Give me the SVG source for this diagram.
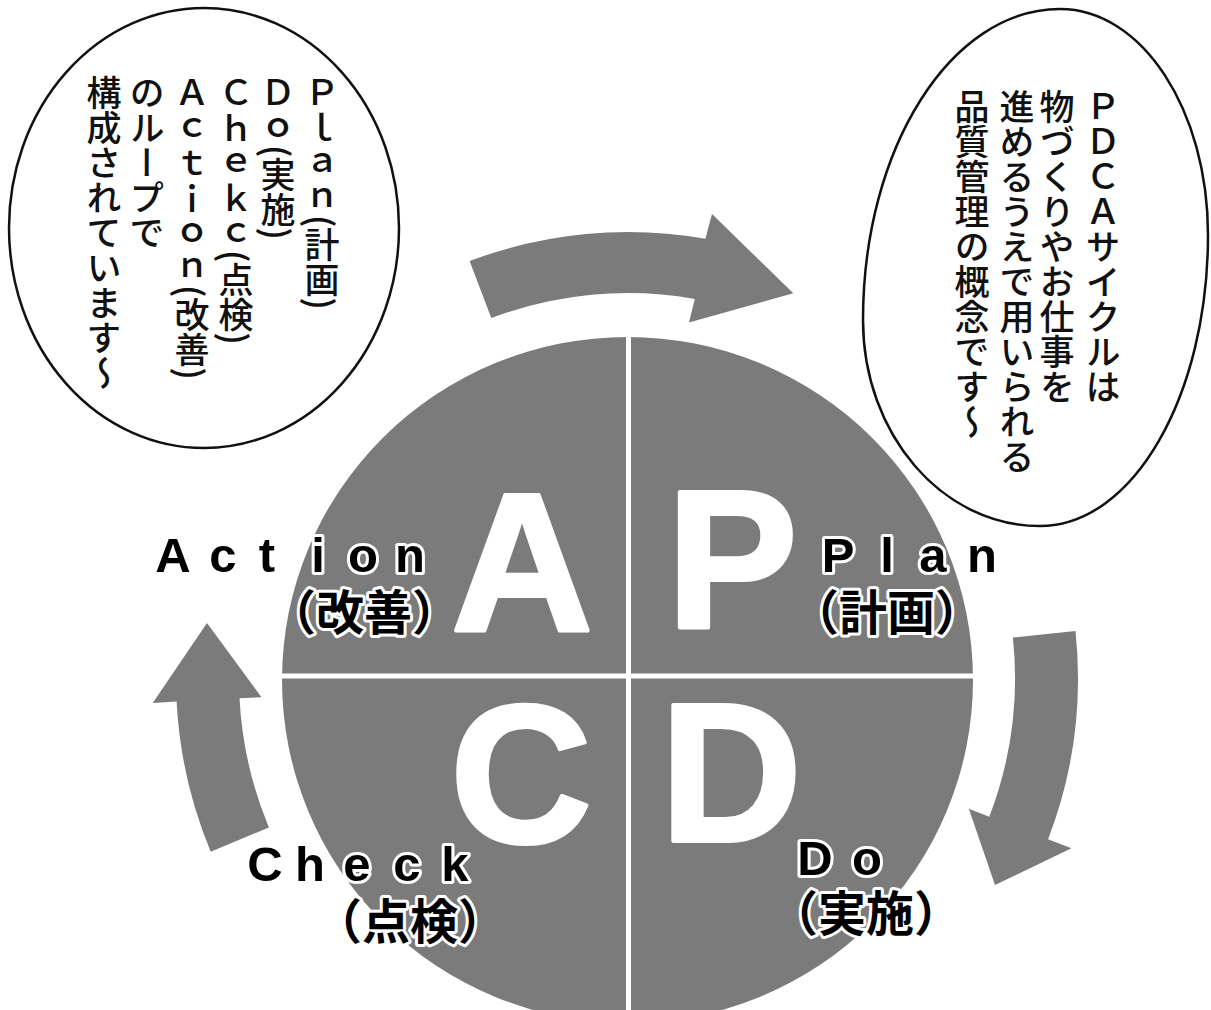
<svg xmlns="http://www.w3.org/2000/svg" width="1211" height="1010" viewBox="0 0 1211 1010">
<style>
  .bubble{fill:#fff;stroke:#111;stroke-width:2.5}
  .vt{font-family:"Noto Sans CJK JP","Noto Sans CJK SC",sans-serif;font-size:35px;font-weight:500;fill:#111;writing-mode:vertical-rl}
  .disc{fill:#7b7b7b}
  .sep{stroke:#fff;stroke-width:5}
  .big{font-family:"Liberation Sans",Arial,sans-serif;font-weight:bold;font-size:196px;fill:#fff;stroke:#fff;stroke-width:4;stroke-linejoin:round;text-anchor:middle}
  .lat{font-family:"Liberation Sans",Arial,sans-serif;font-weight:bold;font-size:49px;fill:#000;stroke:#fff;stroke-width:6;paint-order:stroke;stroke-linejoin:round;text-anchor:middle}
  .jp{font-family:"Noto Sans CJK JP","Noto Sans CJK SC",sans-serif;font-weight:bold;font-size:48px;fill:#000;stroke:#fff;stroke-width:6;paint-order:stroke;stroke-linejoin:round;text-anchor:middle}
  .arrow{fill:#7b7b7b}
</style>
<rect width="1211" height="1010" fill="#fff"/>

<g id="bubble-left">
  <ellipse class="bubble" cx="204" cy="228" rx="195" ry="220"/>
  <text class="vt" x="322" y="75">Ｐｌａｎ(計画)</text>
  <text class="vt" x="278" y="75">Ｄｏ(実施)</text>
  <text class="vt" x="236" y="75">Ｃｈｅｋｃ(点検)</text>
  <text class="vt" x="192" y="75">Ａｃｔｉｏｎ(改善)</text>
  <text class="vt" x="147" y="75">のループで</text>
  <text class="vt" x="104" y="75">構成されています〜</text>
</g>

<g id="bubble-right">
  <path class="bubble" d="M1060 9 C1142 9 1208 110 1208 235 C1208 396 1133 526 1040 526 C942 526 863 434 863 320 C863 148 951 9 1060 9 Z"/>
  <text class="vt" x="1103" y="89">ＰＤＣＡサイクルは</text>
  <text class="vt" x="1057" y="89">物づくりやお仕事を</text>
  <text class="vt" x="1017" y="89">進めるうえで用いられる</text>
  <text class="vt" x="972" y="89">品質管理の概念です〜</text>
</g>

<g id="cycle">
  <ellipse class="disc" cx="627.5" cy="680" rx="345.5" ry="343"/>
  <line class="sep" x1="628.5" y1="337" x2="628.5" y2="1010"/>
  <line class="sep" x1="282" y1="676" x2="973" y2="676"/>
  <text class="big" x="522" y="631">A</text>
  <text class="big" x="732" y="628">P</text>
  <text class="big" x="521" y="842">C</text>
  <text class="big" x="731" y="841">D</text>
</g>

<g id="label-plan">
  <text class="lat" x="838 887 933 982" y="572">Plan</text>
  <text class="jp" x="887" y="630">（計画）</text>
</g>
<g id="label-do">
  <text class="lat" x="815 867" y="875">Do</text>
  <text class="jp" x="866" y="931">（実施）</text>
</g>
<g id="label-check">
  <text class="lat" x="265 310 357 407 455" y="881">Check</text>
  <text class="jp" x="410" y="939">（点検）</text>
</g>
<g id="label-action">
  <text class="lat" x="173 223 267 318 363 410" y="572">Action</text>
  <text class="jp" x="364" y="630">（改善）</text>
</g>

<g id="connectors">
  <path class="arrow" d="M469.6 261.1 A446 446 0 0 1 705.4 238.8 L712 214 L793.3 293.3 L689 322.5 L694.8 298.9 A385 385 0 0 0 491.3 318.1 Z"/>
  <path class="arrow" d="M1075.5 631 A450 450 0 0 1 1048.1 839.3 L1071.4 848.2 L995 885 L968.8 808.8 L989.3 816.7 A387 387 0 0 0 1012.9 637.6 Z"/>
  <path class="arrow" d="M210.7 851.7 A452 452 0 0 1 176.6 701.6 L152.7 702.9 L207 623 L261.5 697.2 L239.5 698.3 A389 389 0 0 0 268.9 827.5 Z"/>
</g>
</svg>
